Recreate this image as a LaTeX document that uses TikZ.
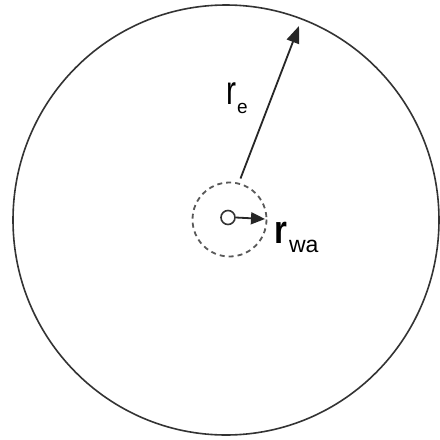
\documentclass[tikz,border=0pt]{standalone}
\usepackage{fontspec}
\setmainfont{Liberation Sans}
\usepackage{graphicx}
\usetikzlibrary{arrows.meta}
\tikzset{
  outer/.style={line width=1.6pt, draw=black!80},
  well/.style={line width=1.8pt, draw=black!65, dash pattern=on 5pt off 4pt},
  tiny/.style={circle, draw=black!80, line width=1.6pt, minimum size=14pt, inner sep=0pt},
  radius arrow/.style={line width=1.8pt, draw=black!85, -{Triangle[length=17pt,width=13pt]}},
  small arrow/.style={line width=1.8pt, draw=black!85, -{Triangle[length=14pt,width=12pt]}},
  lbl/.style={anchor=base west, inner sep=0pt, text=black}
}
\begin{document}
\begin{tikzpicture}[x=1pt,y=-1pt]
\useasboundingbox[fill=white] (0,0) rectangle (440,440);
% outer circle
\draw[outer] (226,220) ellipse [x radius=213, y radius=215];
% dashed circle
\draw[well] (229.5,219.5) circle [radius=37];
% tiny well
\node[tiny] (w) at (228,217.5) {};
\coordinate (wtip) at (265,219);
\draw[small arrow] (w.east) -- (wtip);
% big radius arrow
\coordinate (rs) at (240.5,178.5);
\coordinate (re) at (299,26);
\draw[radius arrow] (rs) -- (re);
% labels
\node[lbl] (lre) at (226,104) {\scalebox{1}[1.35]{\fontsize{30}{30}\selectfont r}\kern1pt\raisebox{-9pt}{\fontsize{19}{19}\selectfont e}};
\node[lbl] (lrwa) at (274.5,243) {\scalebox{1}[1.2]{\fontsize{33}{33}\selectfont\bfseries r}\kern1.5pt\raisebox{-9pt}{\fontsize{23}{23}\selectfont wa}};
\end{tikzpicture}
\end{document}
